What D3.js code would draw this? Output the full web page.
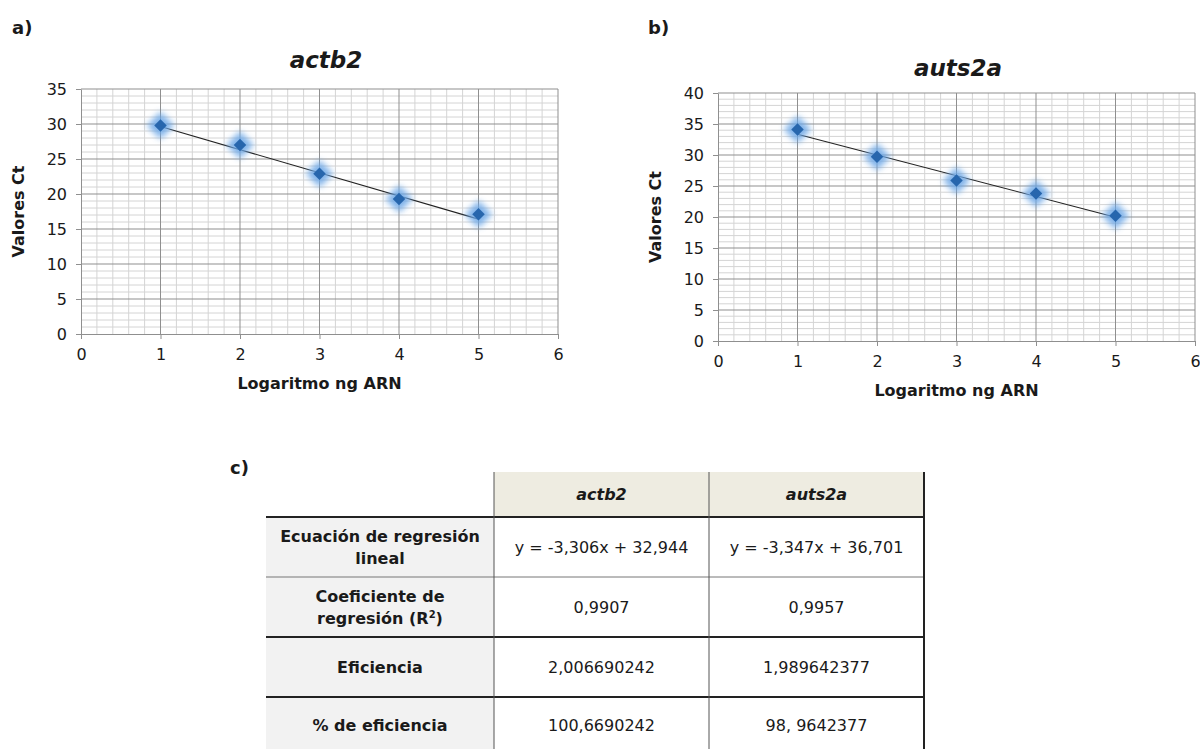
<!DOCTYPE html>
<html>
<head>
<meta charset="utf-8">
<script src="https://cdn.jsdelivr.net/npm/d3@7"></script>
<style>
  body { margin: 0; background: #fff; }
  svg text { font-family: "DejaVu Sans", Tahoma, sans-serif; fill: #1a1a1a; }
</style>
</head>
<body>
<div id="chart"></div>
<script>
const width = 1200,
    height = 749

// data
const doses = [1, 2, 3, 4, 5]
const actb2Ct = [29.8, 27.0, 22.9, 19.3, 17.1]
const auts2aCt = [34.1, 29.7, 25.9, 23.8, 20.2]
const slopes = [-3.306, -3.347]
const intercepts = [32.944, 36.701]

const genes = ["actb2", "auts2a"]
const rowLabels = [["Ecuación de regresión", "lineal"], ["Coeficiente de", "regresión (R2)"], ["Eficiencia"], ["% de eficiencia"]]
const actb2Col = ["y = -3,306x + 32,944", "0,9907", "2,006690242", "100,6690242"]
const auts2aCol = ["y = -3,347x + 36,701", "0,9957", "1,989642377", "98, 9642377"]

const colors = {
    marker: "#2766ad",
    glow: "#6aa6e6",
    major: "#8f8f8f",
    minor: "#d4d4d4",
    head: "#eeece1",
    labelCell: "#f2f2f2"
}

const svg = d3.select("#chart")
    .append("svg")
        .attr("width", width)
        .attr("height", height)

const defs = svg.append("defs")
defs.append("filter")
    .attr("id", "glow")
    .attr("x", "-100%").attr("y", "-100%")
    .attr("width", "300%").attr("height", "300%")
  .append("feGaussianBlur")
    .attr("stdDeviation", 3.4)

function drawChart(cfg) {
    const x = d3.scaleLinear().domain([0, 6]).range([cfg.left, cfg.right])
    const y = d3.scaleLinear().domain([0, cfg.yMax]).range([cfg.bottom, cfg.top])
    const g = svg.append("g")

    // minor grid
    g.selectAll(".vminor")
        .data(d3.range(0, 30).map(i => i / 5).filter(v => v % 1 !== 0))
        .enter().append("line")
            .attr("x1", d => x(d)).attr("x2", d => x(d))
            .attr("y1", cfg.top).attr("y2", cfg.bottom)
            .attr("stroke", colors.minor)
    g.selectAll(".hminor")
        .data(d3.range(0, cfg.yMax + 1).filter(v => v % 5 !== 0))
        .enter().append("line")
            .attr("x1", cfg.left).attr("x2", cfg.right)
            .attr("y1", d => y(d)).attr("y2", d => y(d))
            .attr("stroke", colors.minor)

    // major grid
    g.selectAll(".vmajor")
        .data(d3.range(1, 7))
        .enter().append("line")
            .attr("x1", d => x(d)).attr("x2", d => x(d))
            .attr("y1", cfg.top).attr("y2", cfg.bottom)
            .attr("stroke", colors.major)
    g.selectAll(".hmajor")
        .data(d3.range(5, cfg.yMax + 1, 5))
        .enter().append("line")
            .attr("x1", cfg.left).attr("x2", cfg.right)
            .attr("y1", d => y(d)).attr("y2", d => y(d))
            .attr("stroke", colors.major)

    // axes
    const xAxis = g.append("g")
        .attr("transform", `translate(0,${cfg.bottom})`)
        .call(d3.axisBottom(x).ticks(6).tickSize(5).tickSizeOuter(0).tickPadding(10))
    const yAxis = g.append("g")
        .attr("transform", `translate(${cfg.left},0)`)
        .call(d3.axisLeft(y).ticks(cfg.yMax / 5).tickSize(5).tickSizeOuter(0).tickPadding(9))
    ;[xAxis, yAxis].forEach(a => {
        a.select(".domain").attr("stroke", colors.major)
        a.selectAll(".tick line").attr("stroke", colors.major)
        a.selectAll("text").attr("font-size", 16).attr("fill", "#1a1a1a")
            .style("font-family", "'DejaVu Sans', Tahoma, sans-serif")
    })

    // trendline from regression coefficients
    g.append("line")
        .attr("x1", x(doses[0])).attr("x2", x(doses[doses.length - 1]))
        .attr("y1", y(cfg.slope * doses[0] + cfg.intercept))
        .attr("y2", y(cfg.slope * doses[doses.length - 1] + cfg.intercept))
        .attr("stroke", "#222")
        .attr("stroke-width", 1.1)

    const diamond = d3.symbol().type(d3.symbolDiamond2)
    g.selectAll(".glow")
        .data(cfg.values)
        .enter().append("path")
            .attr("d", diamond.size(480)())
            .attr("transform", (d, i) => `translate(${x(doses[i])},${y(d)})`)
            .attr("fill", colors.glow)
            .attr("opacity", 0.85)
            .attr("filter", "url(#glow)")
    g.selectAll(".pt")
        .data(cfg.values)
        .enter().append("path")
            .attr("d", diamond.size(100)())
            .attr("transform", (d, i) => `translate(${x(doses[i])},${y(d)})`)
            .attr("fill", colors.marker)

    // titles
    g.append("text")
        .attr("x", cfg.titleX).attr("y", cfg.titleY)
        .attr("text-anchor", "middle")
        .attr("font-size", 23).attr("font-weight", "bold").attr("font-style", "italic")
        .text(cfg.title)
    g.append("text")
        .attr("x", (cfg.left + cfg.right) / 2).attr("y", cfg.bottom + 55)
        .attr("text-anchor", "middle")
        .attr("font-size", 16).attr("font-weight", "bold")
        .text("Logaritmo ng ARN")
    g.append("text")
        .attr("transform", `translate(${cfg.left - 57},${(cfg.top + cfg.bottom) / 2}) rotate(-90)`)
        .attr("text-anchor", "middle")
        .attr("font-size", 16).attr("font-weight", "bold")
        .text("Valores Ct")
    g.append("text")
        .attr("x", cfg.tagX).attr("y", 34)
        .attr("font-size", 18).attr("font-weight", "bold")
        .text(cfg.tag)
}

drawChart({ left: 81, right: 558, top: 89, bottom: 334, yMax: 35, values: actb2Ct,
    slope: slopes[0], intercept: intercepts[0], title: genes[0], titleX: 326, titleY: 68, tag: "a)", tagX: 12 })
drawChart({ left: 718, right: 1195, top: 93, bottom: 341, yMax: 40, values: auts2aCt,
    slope: slopes[1], intercept: intercepts[1], title: genes[1], titleX: 958, titleY: 76, tag: "b)", tagX: 648 })

// table c)
const colEdges = [266, 494, 709, 924]
const rowEdges = [517, 577, 637, 697, 760]
const tbl = svg.append("g")

tbl.append("text").attr("x", 230).attr("y", 474)
    .attr("font-size", 18).attr("font-weight", "bold").text("c)")

tbl.selectAll(".head")
    .data(genes)
    .enter().append("rect")
        .attr("x", (d, i) => colEdges[i + 1]).attr("y", 472)
        .attr("width", (d, i) => colEdges[i + 2] - colEdges[i + 1]).attr("height", 517 - 472)
        .attr("fill", colors.head)
tbl.selectAll(".headtxt")
    .data(genes)
    .enter().append("text")
        .attr("x", (d, i) => (colEdges[i + 1] + colEdges[i + 2]) / 2).attr("y", 500)
        .attr("text-anchor", "middle")
        .attr("font-size", 16).attr("font-weight", "bold").attr("font-style", "italic")
        .text(d => d)

tbl.append("rect")
    .attr("x", colEdges[0]).attr("y", rowEdges[0])
    .attr("width", colEdges[1] - colEdges[0]).attr("height", height - rowEdges[0])
    .attr("fill", colors.labelCell)

rowLabels.forEach((lines, r) => {
    const cy = (rowEdges[r] + Math.min(rowEdges[r + 1], 752)) / 2
    const t = tbl.append("text")
        .attr("text-anchor", "middle")
        .attr("font-size", 16).attr("font-weight", "bold")
    lines.forEach((ln, k) => {
        const yy = cy + 6 + (k - (lines.length - 1) / 2) * 22
        if (ln.endsWith("(R2)")) {
            t.append("tspan").attr("x", 380).attr("y", yy).text(ln.slice(0, -2))
            t.append("tspan").attr("dy", -6).attr("font-size", 10).text("2")
            t.append("tspan").attr("dy", 6).text(")")
        } else {
            t.append("tspan").attr("x", 380).attr("y", yy).text(ln)
        }
    })
})

;[actb2Col, auts2aCol].forEach((col, c) => {
    tbl.selectAll(".val" + c)
        .data(col)
        .enter().append("text")
            .attr("x", (colEdges[c + 1] + colEdges[c + 2]) / 2)
            .attr("y", (d, r) => (rowEdges[r] + Math.min(rowEdges[r + 1], 752)) / 2 + 6)
            .attr("text-anchor", "middle")
            .attr("font-size", 16)
            .text(d => d)
})

// borders
tbl.selectAll(".hline")
    .data(rowEdges.slice(0, 4))
    .enter().append("line")
        .attr("x1", colEdges[0]).attr("x2", colEdges[3] + 1)
        .attr("y1", d => d).attr("y2", d => d)
        .attr("stroke", (d, i) => i === 1 ? "#777" : "#222")
        .attr("stroke-width", (d, i) => i === 1 ? 1 : 2)
tbl.selectAll(".vline")
    .data(colEdges.slice(1))
    .enter().append("line")
        .attr("x1", d => d).attr("x2", d => d)
        .attr("y1", 472)
        .attr("y2", height)
        .attr("stroke", (d, i) => i === 2 ? "#222" : "#555")
        .attr("stroke-width", (d, i) => i === 2 ? 2 : 1)
</script>
</body>
</html>
